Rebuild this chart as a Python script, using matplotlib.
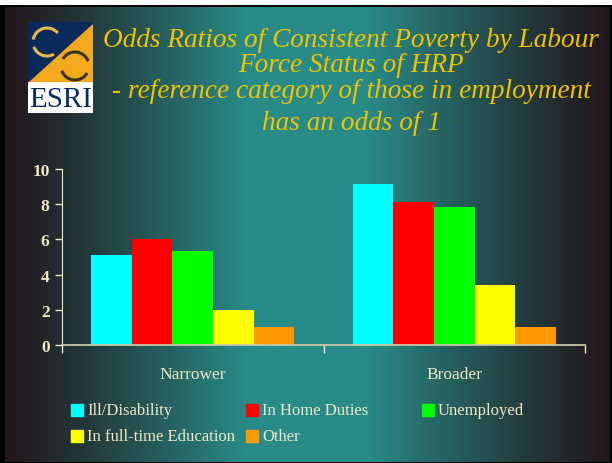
import numpy as np
import matplotlib
matplotlib.use("Agg")
import matplotlib.pyplot as plt
from matplotlib.patches import Rectangle, Polygon, Arc

# ---- data ----
groups = ["Narrower", "Broader"]
series = ["Ill/Disability", "In Home Duties", "Unemployed", "In full-time Education", "Other"]
narrower = [5.1, 6.05, 5.35, 2.0, 1.05]
broader = [9.15, 8.1, 7.85, 3.4, 1.0]
colors = ["#00ffff", "#ff0000", "#00ff00", "#ffff00", "#ff9900"]
yticks = [0, 2, 4, 6, 8, 10]
title_lines = ["Odds Ratios of Consistent Poverty by Labour",
               "Force Status of HRP",
               "- reference category of those in employment",
               "has an odds of 1"]

W, H = 612, 464
fig = plt.figure(figsize=(W / 100, H / 100), dpi=100, facecolor="white")

def fx(x):
    return x / W

def fy(y):
    return 1 - y / H

# black frame
bg0 = fig.add_axes([0, 0, 1, fy(6)])
bg0.set_facecolor("black")
bg0.set_xticks([]); bg0.set_yticks([])
for s in bg0.spines.values():
    s.set_visible(False)

# gradient background
bg = fig.add_axes([fx(5), fy(463), fx(610) - fx(5), fy(8) - fy(463)])
dark = np.array([0x22, 0x16, 0x1b]) / 255
teal = np.array([0x28, 0x8b, 0x88]) / 255
xs = np.linspace(0, 1, 600)
t = 1 - np.abs(xs - 0.5) * 2
t = np.clip(t * 1.25, 0, 1)
t = t ** 1.1
grad = dark[None, :] * (1 - t[:, None]) + teal[None, :] * t[:, None]
bg.imshow(grad[None, :, :], aspect="auto", extent=[0, 1, 0, 1])
bg.set_xlim(0, 1); bg.set_ylim(0, 1)
bg.set_xticks([]); bg.set_yticks([])
for s in bg.spines.values():
    s.set_visible(False)

# logo
lg = fig.add_axes([fx(28), fy(114), fx(93) - fx(28), fy(23) - fy(114)])
lg.set_xlim(0, 65); lg.set_ylim(0, 91)
lg.axis("off")
navy = "#0b2a5c"
gold = "#f2a91e"
lg.add_patch(Rectangle((0, 0), 65, 91, color="white"))
lg.add_patch(Polygon([(0, 32), (65, 32), (65, 91)], closed=True, color=gold))
lg.add_patch(Polygon([(0, 32), (0, 91), (65, 91)], closed=True, color=navy))
for ang in [(40, 170), (200, 300)]:
    lg.add_patch(Arc((19, 71), 28, 28, theta1=ang[0], theta2=ang[1], color="#e8b84a", lw=2.2))
for ang in [(20, 150), (200, 330)]:
    lg.add_patch(Arc((47, 47), 28, 28, theta1=ang[0], theta2=ang[1], color="#3a3520", lw=2.2))
lg.text(32.5, 14, "ESRI", ha="center", va="center", color=navy,
        fontsize=21, family="Liberation Serif")

# title
title_color = "#f2c400"
for txt, y in zip(title_lines, [47, 72, 98, 130]):
    fig.text(fx(351), fy(y), txt, ha="center", va="baseline", color=title_color,
             fontsize=19.6, style="italic", family="Liberation Serif")

# main axes
ax = fig.add_axes([fx(62), fy(346), fx(585) - fx(62), fy(170) - fy(346)])
ax.set_facecolor("none")
n = len(series)
bw = 0.155
centers = np.arange(len(groups)) + 0.5
for i, (name, c) in enumerate(zip(series, colors)):
    vals = [narrower[i], broader[i]]
    ax.bar(centers + (i - (n - 1) / 2) * bw, vals, width=bw, color=c, label=name)
ax.set_xlim(0, 2)
ax.set_ylim(0, 10)
cream = "#efe9c6"
ax.set_yticks(yticks)
ax.set_yticklabels([str(v) for v in yticks], fontsize=12.5, fontweight="bold",
                   family="Liberation Serif", color=cream)
ax.set_xticks([0, 1, 2])
ax.set_xticklabels([])
ax.set_xticks(centers, minor=True)
ax.set_xticklabels(groups, minor=True, fontsize=12.5, family="Liberation Serif", color=cream)
ax.tick_params(axis="x", which="minor", length=0, pad=15)
ax.tick_params(axis="x", which="major", length=6, color=cream, width=1)
ax.tick_params(axis="y", length=5, color=cream, width=1, pad=4)
for s in ["top", "right"]:
    ax.spines[s].set_visible(False)
ax.spines["left"].set_color(cream)
ax.spines["bottom"].set_color("#c8c8a8")
ax.spines["bottom"].set_linewidth(1.3)

# legend (row-wise layout)
leg_pos = [(71, 411), (246, 411), (422, 411), (71, 437), (246, 437)]
for (x, y), name, c in zip(leg_pos, series, colors):
    fig.patches.append(Rectangle((fx(x), fy(y + 6)), fx(12), 12 / H, color=c,
                                 transform=fig.transFigure, figure=fig))
    fig.text(fx(x + 16), fy(y), name, ha="left", va="center", color=cream,
             fontsize=12, family="Liberation Serif")

fig.savefig("out.png", dpi=100, facecolor="white")
